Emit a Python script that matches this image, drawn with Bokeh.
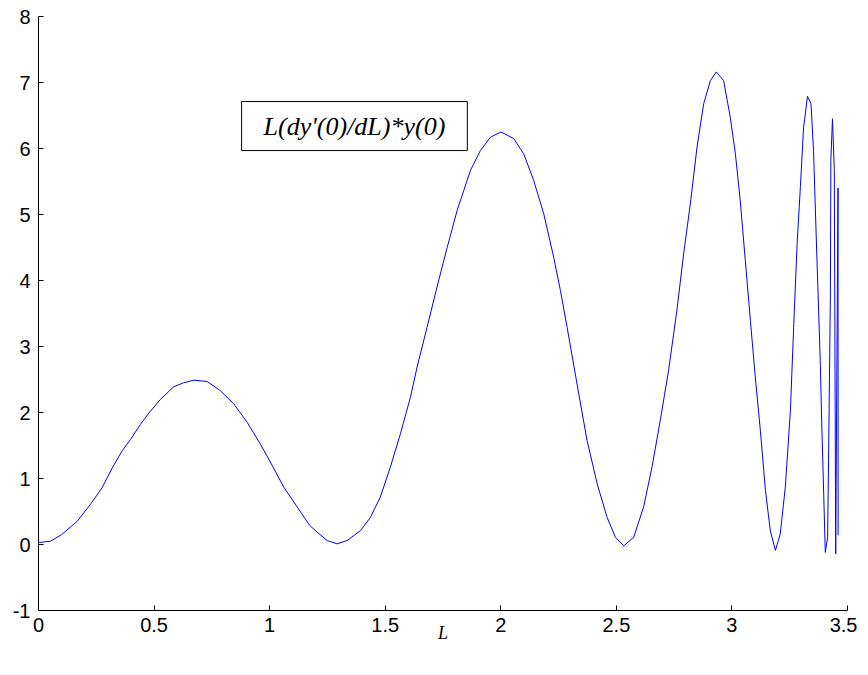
from bokeh.plotting import figure
from bokeh.models import Range1d, FixedTicker, Label
from bokeh.embed import file_html
from bokeh.resources import INLINE

# ---- data ----
L_vals = [0.0, 0.052, 0.10, 0.167, 0.225, 0.275, 0.319, 0.362, 0.398, 0.441,
          0.484, 0.528, 0.585, 0.628, 0.672, 0.729, 0.787, 0.845, 0.903, 0.96,
          1.003, 1.061, 1.119, 1.173, 1.205, 1.249, 1.292, 1.335, 1.393, 1.436,
          1.479, 1.522, 1.566, 1.609, 1.638, 1.681, 1.724, 1.768, 1.811, 1.869,
          1.912, 1.955, 2.001, 2.056, 2.099, 2.142, 2.186, 2.229, 2.258, 2.287,
          2.330, 2.373, 2.417, 2.460, 2.496, 2.532, 2.575, 2.618, 2.654, 2.690,
          2.726, 2.762, 2.791, 2.820, 2.849, 2.878, 2.907, 2.932, 2.964, 2.993,
          3.015, 3.036, 3.058, 3.080, 3.101, 3.123, 3.145, 3.166, 3.188, 3.209,
          3.231, 3.253, 3.267, 3.282, 3.296, 3.310, 3.327, 3.342, 3.353, 3.368,
          3.382, 3.389, 3.397, 3.404, 3.414, 3.418, 3.426, 3.428, 3.435, 3.443,
          3.449, 3.459, 3.4595]
y_vals = [0.03, 0.05, 0.15, 0.35, 0.61, 0.86, 1.16, 1.42, 1.59, 1.82,
          2.02, 2.20, 2.39, 2.45, 2.49, 2.47, 2.33, 2.13, 1.85, 1.52,
          1.25, 0.87, 0.57, 0.29, 0.19, 0.06, 0.01, 0.06, 0.21, 0.41,
          0.72, 1.17, 1.68, 2.23, 2.69, 3.29, 3.90, 4.50, 5.06, 5.67,
          5.97, 6.17, 6.25, 6.15, 5.92, 5.52, 5.01, 4.35, 3.85, 3.29,
          2.43, 1.58, 0.92, 0.41, 0.11, -0.02, 0.11, 0.57, 1.17, 1.88,
          2.64, 3.55, 4.40, 5.16, 6.02, 6.68, 7.03, 7.16, 7.03, 6.47,
          5.92, 5.21, 4.30, 3.39, 2.54, 1.73, 0.82, 0.21, -0.09, 0.16,
          0.87, 2.03, 3.29, 4.56, 5.41, 6.32, 6.79, 6.68, 5.97, 4.30,
          2.79, 1.78, 0.77, -0.12, 0.11, 1.27, 3.80, 5.82, 6.45, 5.67,
          -0.14, 5.40, 0.14]

x_ticks = [0, 0.5, 1, 1.5, 2, 2.5, 3, 3.5]
x_tick_labels = ["0", "0.5", "1", "1.5", "2", "2.5", "3", "3.5"]
y_ticks = [-1, 0, 1, 2, 3, 4, 5, 6, 7, 8]
y_tick_labels = ["-1", "0", "1", "2", "3", "4", "5", "6", "7", "8"]

legend_text = "L(dy'(0)/dL)*y(0)"
x_label = "L"

p = figure(frame_width=809, frame_height=594,
           x_range=Range1d(0, 3.5), y_range=Range1d(-1, 8),
           output_backend="svg", toolbar_location=None,
           min_border_left=38, min_border_right=10,
           min_border_top=16, min_border_bottom=55)
p.outline_line_color = None
p.xgrid.visible = False
p.ygrid.visible = False
p.background_fill_color = "white"
p.border_fill_color = "white"

p.line(L_vals, y_vals, line_color="#0000FF", line_width=1)

p.xaxis.ticker = FixedTicker(ticks=x_ticks)
p.xaxis.major_label_overrides = {t: s for t, s in zip(x_ticks, x_tick_labels)}
p.yaxis.ticker = FixedTicker(ticks=y_ticks)
p.yaxis.major_label_overrides = {t: s for t, s in zip(y_ticks, y_tick_labels)}

for ax in (p.xaxis, p.yaxis):
    ax.axis_line_color = "black"
    ax.axis_line_width = 1
    ax.major_tick_line_color = "black"
    ax.major_tick_in = 5
    ax.major_tick_out = 0
    ax.minor_tick_line_color = None
    ax.major_label_text_font = "Liberation Sans"
    ax.major_label_text_font_size = "20px"
    ax.major_label_text_color = "black"
p.xaxis.major_label_standoff = 7
p.yaxis.major_label_standoff = 8

p.xaxis.axis_label = x_label
p.xaxis.axis_label_text_font = "Liberation Serif"
p.xaxis.axis_label_text_font_style = "italic"
p.xaxis.axis_label_text_font_size = "18px"
p.xaxis.axis_label_text_color = "black"
p.xaxis.axis_label_standoff = -12

leg = Label(x=1.367, y=6.34, text=legend_text,
            text_font="Liberation Serif", text_font_style="italic",
            text_font_size="26px", text_color="black",
            text_align="center", text_baseline="middle",
            border_line_color="black", border_line_width=1,
            background_fill_color="white",
            padding=dict(left=22, right=22, top=10, bottom=10))
p.add_layout(leg)

open("out.html", "w").write(file_html(p, INLINE))
